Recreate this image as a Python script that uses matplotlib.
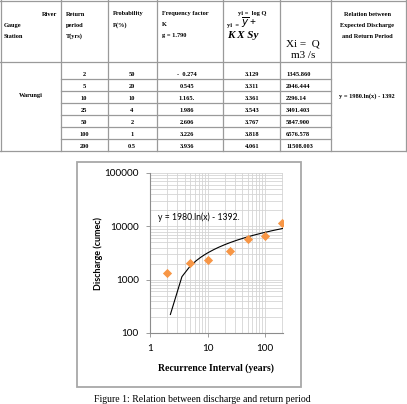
import numpy as np
import matplotlib
matplotlib.use("Agg")
import matplotlib.pyplot as plt
from matplotlib.patches import Rectangle
from matplotlib.lines import Line2D
from matplotlib.ticker import LogLocator, NullFormatter

# ---------------- data ----------------
station = "Warungi"
return_period = [2, 5, 10, 25, 50, 100, 200]
probability = ["50", "20", "10", "4", "2", "1", "0.5"]
freq_factor = ["-  0.274", "0.545", "1.165.", "1.986", "2.606", "3.226", "3.936"]
log_q = ["3.129", "3.311", "3.361", "3.543", "3.767", "3.818", "4.061"]
discharge = [1345.860, 2046.444, 2296.14, 3491.403, 5847.900, 6576.578, 11508.003]
discharge_txt = ["1345.860", "2046.444", "2296.14", "3491.403", "5847.900", "6576.578", "11508.003"]
relation_txt = "y = 1980.ln(x) - 1392"
trend_a, trend_b = 1980.0, -1392.0
trend_label = "y = 1980.ln(x) - 1392."
x_ticks = [1, 10, 100]
x_tick_labels = ["1", "10", "100"]
y_ticks = [100, 1000, 10000, 100000]
y_tick_labels = ["100", "1000", "10000", "100000"]

W, H = 407, 404
fig = plt.figure(figsize=(W / 100, H / 100), dpi=100)


def fx(x):
    return x / W


def fy(y):
    return 1 - y / H


def txt(x, y, s, size=4.6, ha="left", va="center", weight="bold", family="Liberation Serif", style="normal"):
    fig.text(fx(x), fy(y), s, ha=ha, va=va, fontsize=size, fontweight=weight,
             family=family, style=style, color="black")


def hline(x0, x1, y, c="#9a9a9a", lw=0.9):
    fig.add_artist(Line2D([fx(x0), fx(x1)], [fy(y), fy(y)], color=c, lw=lw, transform=fig.transFigure))


def vline(x, y0, y1, c="#9a9a9a", lw=0.9):
    fig.add_artist(Line2D([fx(x), fx(x)], [fy(y0), fy(y1)], color=c, lw=lw, transform=fig.transFigure))


# ---------------- table ----------------
col_x = [0.5, 61, 108, 157, 223, 280, 331, 406]
row_lines = [62, 79, 91, 103, 115, 127, 139, 151]
hline(0, 406, 0.5)
hline(0, 406, row_lines[0])
for yl in row_lines[1:-1]:
    hline(61, 331, yl)
hline(0, 406, row_lines[-1])
for xc in col_x:
    vline(xc, 0, row_lines[-1])

# header
txt(57, 14, "River", ha="right")
txt(4, 25, "Gauge")
txt(4, 36, "Station")
txt(66, 14, "Return")
txt(66, 25, "period")
txt(66, 36, "T(yrs)")
txt(113, 14, "Probability")
txt(113, 25, "P(%)")
txt(162, 14, "Frequency factor")
txt(162, 25, "K")
txt(162, 36, "g = 1.790")
txt(252, 14, "yi =  log Q", ha="center")
txt(227, 25, "yi  =", size=4.6)
txt(241, 23, r"$\overline{y}$ +", size=7.5, weight="bold")
txt(227, 36, "K X Sy", size=8, style="italic")
txt(303, 44, "Xi =  Q", size=8, ha="center", weight="normal")
txt(303, 55, "m3 /s", size=8, ha="center", weight="normal")
txt(367, 14, "Relation between", ha="center")
txt(367, 25, "Expected Discharge", ha="center")
txt(367, 36, "and Return Period", ha="center")

# body
txt(31, 95, station, ha="center")
txt(367, 96, relation_txt, ha="center")
for i in range(len(return_period)):
    yb = row_lines[i + 1] - 4.5
    txt(84, yb, str(return_period[i]), ha="center")
    txt(132, yb, probability[i], ha="center")
    txt(187, yb, freq_factor[i], ha="center")
    txt(252, yb, log_q[i], ha="center")
    txt(286, yb, discharge_txt[i], ha="left")

# ---------------- chart box ----------------
fig.add_artist(Rectangle((fx(77), fy(387)), fx(301) - fx(77), fy(162) - fy(387),
                         transform=fig.transFigure, fill=False, edgecolor="#a8a8a8", lw=1.3))

ax = fig.add_axes([fx(150), fy(333), fx(283) - fx(150), fy(173) - fy(333)])
ax.set_xscale("log")
ax.set_yscale("log")
ax.set_xlim(1, 205)
ax.set_ylim(100, 100000)

ax.scatter(return_period, discharge, marker="D", s=22, color="#F79646", zorder=3, linewidths=0)
x_fit = np.linspace(2.26, 200, 150)
ax.plot(x_fit, trend_a * np.log(x_fit) + trend_b, color="black", lw=0.8, zorder=2)
ax.text(1.38, 15000, trend_label, fontsize=6.2, family="Lato", va="center", ha="left")

ax.xaxis.set_minor_locator(LogLocator(base=10, subs=np.arange(2, 10)))
ax.yaxis.set_minor_locator(LogLocator(base=10, subs=np.arange(2, 10)))
ax.xaxis.set_minor_formatter(NullFormatter())
ax.yaxis.set_minor_formatter(NullFormatter())
ax.set_xticks(x_ticks)
ax.set_xticklabels(x_tick_labels)
ax.set_yticks(y_ticks)
ax.set_yticklabels(y_tick_labels)
ax.grid(True, which="both", color="#d4d4d4", lw=0.6)
ax.set_axisbelow(True)
for s in ["top", "right"]:
    ax.spines[s].set_visible(False)
for s in ["left", "bottom"]:
    ax.spines[s].set_color("#8c8c8c")
    ax.spines[s].set_linewidth(0.8)
ax.tick_params(which="minor", length=0)
ax.tick_params(which="major", length=3, width=0.6, color="#8c8c8c", labelsize=7.2, pad=5)
for lab in ax.get_xticklabels() + ax.get_yticklabels():
    lab.set_family("Lato")

fig.text(fx(98), fy(253), "Discharge (cumec)", rotation=90, ha="center", va="center",
         fontsize=6.5, fontweight="bold", family="Lato")
fig.text(fx(216), fy(368), "Recurrence Interval (years)", ha="center", va="center",
         fontsize=7, fontweight="bold", family="Liberation Serif")

# caption
fig.text(fx(202), fy(403.5), "Figure 1: Relation between discharge and return period", ha="center", va="bottom",
         fontsize=7, family="Liberation Serif")

fig.savefig("out.png", dpi=100)
